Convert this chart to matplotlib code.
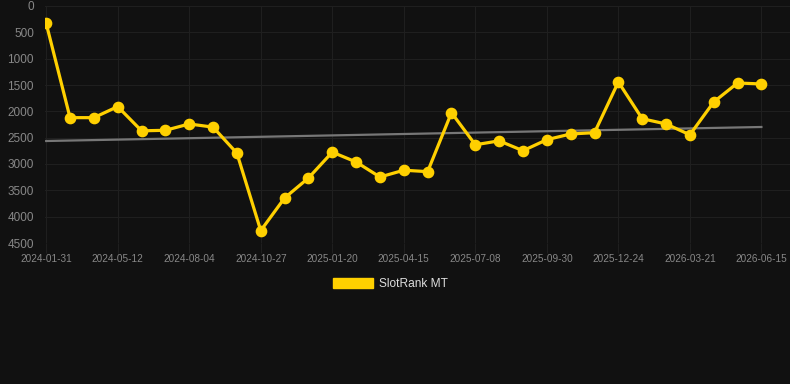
import numpy as np
import matplotlib
matplotlib.use("Agg")
import matplotlib.pyplot as plt
from matplotlib.patches import Patch

plt.rcParams['font.family'] = ['Liberation Sans', 'DejaVu Sans']

# Rango de SlotRank MT (eje invertido, 0 arriba)
rangos = [330, 2120, 2120, 1910, 2370, 2360, 2240, 2300, 2795, 4265,
          3645, 3266, 2775, 2962, 3247, 3118, 3145, 2025, 2635, 2560,
          2748, 2538, 2430, 2405, 1442, 2140, 2240, 2445, 1823, 1462, 1480]
etiquetas = ["2024-01-31", "2024-05-12", "2024-08-04", "2024-10-27", "2025-01-20",
             "2025-04-15", "2025-07-08", "2025-09-30", "2025-12-24", "2026-03-21",
             "2026-06-15"]
paso_etiqueta = 3

FONDO = "#111111"
AMARILLO = "#FFD000"

x = np.arange(len(rangos))
y = np.array(rangos)

fig = plt.figure(figsize=(7.9, 3.84), dpi=100, facecolor=FONDO)
ax = fig.add_axes([45 / 790, 1 - 243 / 384, 745 / 790, 237 / 384])
ax.set_facecolor(FONDO)

# linea de tendencia
m, b = np.polyfit(x, y, 1)
ax.plot(x, m * x + b, color="#777777", linewidth=1.6, zorder=2)

ax.plot(x, y, color=AMARILLO, linewidth=2.3, marker="o", markersize=7.4,
        markerfacecolor=AMARILLO, markeredgecolor=AMARILLO, zorder=3)

ax.set_ylim(4500, 0)
ax.set_yticks(np.arange(0, 4501, 500))
ax.set_xlim(-0.05, 31.2)
ax.set_xticks(np.arange(0, len(rangos), paso_etiqueta))
ax.set_xticklabels(etiquetas)

ax.grid(True, color="#1f1f1f", linewidth=0.8)
ax.set_axisbelow(True)
for s in ax.spines.values():
    s.set_visible(False)

ax.tick_params(axis="x", colors="#1f1f1f", labelcolor="#888888", labelsize=7.2,
               length=7, width=0.8, pad=1)
ax.tick_params(axis="y", length=0, labelcolor="#888888", labelsize=8.5, pad=8)

ley = fig.legend(handles=[Patch(facecolor=AMARILLO, edgecolor=AMARILLO)],
                 labels=["SlotRank MT"], loc="center", bbox_to_anchor=(0.494, 1 - 284 / 384),
                 frameon=False, handlelength=3.3, handleheight=1.0, fontsize=8.6,
                 handletextpad=0.5)
for t in ley.get_texts():
    t.set_color("#DDDDDD")

fig.savefig("out.png", dpi=100, facecolor=FONDO)
